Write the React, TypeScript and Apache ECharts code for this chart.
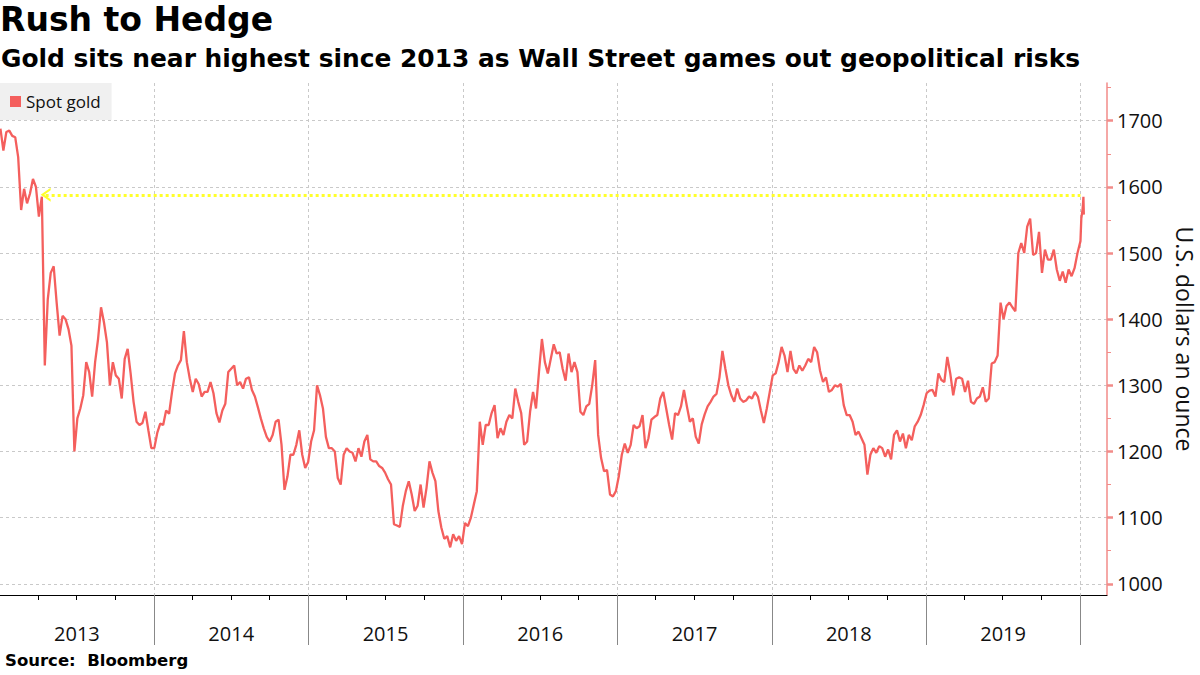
import React, { useEffect, useRef } from "react";
import * as echarts from "echarts";

// ---------- texts ----------
const TITLE = "Rush to Hedge";
const SUBTITLE = "Gold sits near highest since 2013 as Wall Street games out geopolitical risks";
const SOURCE = "Source:  Bloomberg";
const SERIES_NAME = "Spot gold";
const Y_NAME = "U.S. dollars an ounce";

// ---------- axes ----------
const axisStart = "2013-01-01";
const axisEnd = "2020-03-03";
const yMin = 983;
const yMax = 1757;
const yTicks = [1000, 1100, 1200, 1300, 1400, 1500, 1600, 1700];
const yMinorTicks = [1050, 1150, 1250, 1350, 1450, 1550, 1650, 1750];
const yearLabels = [2013, 2014, 2015, 2016, 2017, 2018, 2019];
const yearBoundaries = [2014, 2015, 2016, 2017, 2018, 2019, 2020];

// ---------- reference level (yellow dotted line) ----------
const hedgeLevel = 1588;
const hedgeStart = "2013-04-19";
const hedgeEnd = "2020-01-01";

// ---------- weekly spot gold (Wednesdays), one array per year ----------
const weekStarts = ["2013-01-02", "2014-01-01", "2015-01-07", "2016-01-06", "2017-01-04", "2018-01-03", "2019-01-02"];

const gold2013 = [
  1688, 1655, 1683, 1685, 1677,
  1675, 1645, 1565, 1597,
  1575, 1590, 1612, 1600,
  1555, 1585, 1330, 1430,
  1470, 1480, 1425, 1375, 1405,
  1400, 1385, 1360, 1200,
  1250, 1265, 1285, 1335, 1320,
  1283, 1335, 1370, 1418,
  1395, 1365, 1300, 1335,
  1315, 1310, 1280, 1340, 1355,
  1318, 1275, 1245, 1240,
  1243, 1260, 1232, 1205,
];
const gold2014 = [
  1205, 1228, 1242, 1240, 1262,
  1257, 1290, 1318, 1330,
  1338, 1382, 1335, 1310,
  1290, 1310, 1302, 1283, 1290,
  1290, 1305, 1288, 1258,
  1244, 1262, 1272, 1320,
  1325, 1330, 1300, 1305, 1295,
  1310, 1312, 1293, 1283,
  1267, 1250, 1235, 1222,
  1215, 1225, 1245, 1248, 1210,
  1142, 1162, 1195, 1195,
  1210, 1232, 1195, 1175, 1184,
];
const gold2015 = [
  1215, 1232, 1300, 1285,
  1265, 1222, 1205, 1205,
  1200, 1160, 1150, 1195,
  1205, 1200, 1198, 1185, 1205,
  1192, 1215, 1225, 1188,
  1185, 1185, 1178, 1175,
  1168, 1158, 1150, 1090, 1088,
  1086, 1118, 1140, 1155,
  1135, 1110, 1118, 1150, 1115,
  1145, 1185, 1168, 1155,
  1110, 1085, 1068, 1072,
  1055, 1075, 1065, 1072, 1060,
];
const gold2016 = [
  1092, 1087, 1100, 1120,
  1140, 1245, 1210, 1240,
  1240, 1258, 1270, 1220, 1235,
  1225, 1245, 1255, 1250,
  1295, 1275, 1258, 1210,
  1215, 1260, 1290, 1265, 1320,
  1370, 1335, 1318, 1340,
  1362, 1348, 1350, 1325, 1307,
  1348, 1320, 1335, 1320,
  1260, 1255, 1268, 1272,
  1300, 1338, 1225, 1190, 1170,
  1172, 1135, 1132, 1140,
];
const gold2017 = [
  1163, 1195, 1212, 1198,
  1210, 1240, 1235, 1238,
  1255, 1205, 1220, 1248, 1252,
  1255, 1280, 1290, 1265,
  1240, 1218, 1258, 1255, 1268,
  1293, 1268, 1245, 1250,
  1222, 1212, 1241, 1256,
  1268, 1275, 1283, 1287, 1312,
  1352, 1325, 1300, 1285,
  1275, 1295, 1280, 1275,
  1277, 1283, 1280, 1290, 1283,
  1262, 1243, 1265, 1290,
];
const gold2018 = [
  1315, 1318, 1335, 1358, 1345,
  1320, 1352, 1325, 1318,
  1330, 1322, 1330, 1340,
  1335, 1358, 1350, 1322,
  1305, 1312, 1290, 1293, 1300,
  1298, 1302, 1270, 1255,
  1255, 1245, 1225, 1230,
  1220, 1210, 1165, 1195, 1205,
  1198, 1208, 1205, 1192,
  1203, 1188, 1225, 1232, 1215,
  1227, 1205, 1225, 1217,
  1238, 1245, 1255, 1270,
];
const gold2019 = [
  1288, 1292, 1293, 1283, 1318,
  1308, 1305, 1343, 1318,
  1285, 1310, 1312, 1310,
  1290, 1307, 1275, 1272,
  1280, 1283, 1297, 1275, 1280,
  1333, 1335, 1345, 1425,
  1400, 1420, 1425, 1418, 1412,
  1500, 1515, 1500, 1540,
  1552, 1497, 1500, 1532,
  1470, 1505, 1490, 1490, 1505,
  1475, 1458, 1472, 1455,
  1475, 1465, 1477, 1500,
];
const tailDates = ["2020-01-01", "2020-01-03", "2020-01-06", "2020-01-07", "2020-01-08", "2020-01-09"];
const tailPrices = [1518, 1552, 1566, 1574, 1585, 1558];

// ---------- helpers ----------
const DAY = 86400000;
const ts = (s: string) => Date.parse(s + "T00:00:00Z");

function buildSeries(): [number, number][] {
  const yearly = [gold2013, gold2014, gold2015, gold2016, gold2017, gold2018, gold2019];
  const out: [number, number][] = [];
  yearly.forEach((arr, k) => {
    const t0 = ts(weekStarts[k]);
    arr.forEach((v, i) => out.push([t0 + i * 7 * DAY, v]));
  });
  tailDates.forEach((d, i) => out.push([ts(d), tailPrices[i]]));
  return out;
}

const FONT = "'Open Sans', 'DejaVu Sans', sans-serif";
const TITLE_FONT = "'DejaVu Sans', Verdana, sans-serif";
const LINE_COLOR = "#f45f5d";
const Y_AXIS_COLOR = "#f28b89";
const GRID_COLOR = "#c9c9c9";

export default function App() {
  const ref = useRef<HTMLDivElement>(null);

  useEffect(() => {
    if (!ref.current) return;
    const chart = echarts.init(ref.current, undefined, { renderer: "svg" });

    const quarterTicks: number[] = [];
    yearLabels.forEach((y) => {
      quarterTicks.push(ts(`${y}-04-01`), ts(`${y}-07-01`), ts(`${y}-10-01`));
    });
    const labelPos = yearLabels.map((y) => ts(`${y}-07-02`));
    const boundaryTicks = yearBoundaries.map((y) => ts(`${y}-01-01`));
    const xMin = ts(axisStart);
    const xMax = ts(axisEnd) + 19 * 3600000;

    const chevron = "path://M0,10 L5,0 L10,10 L8.2,10 L5,3.6 L1.8,10 Z";

    chart.setOption({
      animation: false,
      backgroundColor: "#ffffff",
      title: [
        {
          text: TITLE,
          left: 0,
          top: 3,
          padding: 0,
          textStyle: { fontFamily: TITLE_FONT, fontWeight: "bold", fontSize: 33, color: "#000" },
        },
        {
          text: SUBTITLE,
          left: 1,
          top: 46,
          padding: 0,
          textStyle: { fontFamily: TITLE_FONT, fontWeight: "bold", fontSize: 24.9, color: "#000" },
        },
        {
          text: SOURCE,
          left: 5,
          top: 652,
          padding: 0,
          textStyle: { fontFamily: TITLE_FONT, fontWeight: "bold", fontSize: 16.5, color: "#000" },
        },
      ],
      legend: {
        data: [SERIES_NAME],
        left: 0,
        top: 83,
        padding: [10, 11, 10, 10],
        backgroundColor: "#f0f0f0",
        icon: "rect",
        itemWidth: 11,
        itemHeight: 11,
        itemGap: 5,
        textStyle: { fontFamily: FONT, fontSize: 17, color: "#111" },
        selectedMode: false,
      },
      grid: { left: 0, right: 93, top: 83, bottom: 80, containLabel: false, outerBoundsMode: "none" },
      xAxis: [
        {
          type: "value",
          min: xMin,
          max: xMax,
          position: "bottom",
          axisLine: { show: true, lineStyle: { color: "#000", width: 1 } },
          axisTick: { show: true, customValues: quarterTicks, length: 5, lineStyle: { color: "#000" } },
          axisLabel: {
            show: true,
            customValues: labelPos,
            margin: 28,
            fontFamily: FONT,
            fontSize: 20,
            color: "#111",
            formatter: (v: number) => String(new Date(v).getUTCFullYear()),
          },
          splitLine: { show: false },
        },
        {
          type: "value",
          min: xMin,
          max: xMax,
          position: "bottom",
          axisLine: { show: false },
          axisTick: { show: true, customValues: boundaryTicks, length: 50, lineStyle: { color: "#888", width: 1 } },
          axisLabel: { show: false },
          splitLine: { show: true, lineStyle: { color: GRID_COLOR, type: [3, 3], width: 1 } },
        },
      ],
      yAxis: [
        {
          type: "value",
          position: "right",
          min: yMin,
          max: yMax,
          name: Y_NAME,
          nameLocation: "middle",
          nameRotate: -90,
          nameGap: 44,
          nameTextStyle: { fontFamily: FONT, fontSize: 23, lineHeight: 23, color: "#111" },
          axisLine: { show: true, lineStyle: { color: Y_AXIS_COLOR, width: 1.5 } },
          axisTick: { show: true, customValues: yTicks, length: 6, lineStyle: { color: Y_AXIS_COLOR, width: 2.5 } },
          axisLabel: {
            show: true,
            customValues: yTicks,
            margin: 10,
            fontFamily: FONT,
            fontSize: 20,
            color: "#111",
            formatter: (v: number) => String(v),
          },
          splitLine: { show: true, lineStyle: { color: GRID_COLOR, type: [3, 3], width: 1 } },
        },
        {
          type: "value",
          position: "right",
          min: yMin,
          max: yMax,
          axisLine: { show: false },
          axisTick: { show: true, customValues: yMinorTicks, length: 4, lineStyle: { color: Y_AXIS_COLOR, width: 1 } },
          axisLabel: { show: false },
          splitLine: { show: false },
        },
      ],
      series: [
        {
          name: SERIES_NAME,
          type: "line",
          xAxisIndex: 0,
          yAxisIndex: 0,
          data: buildSeries(),
          showSymbol: false,
          symbol: "none",
          color: LINE_COLOR,
          lineStyle: { color: LINE_COLOR, width: 2.3 },
          markLine: {
            silent: true,
            animation: false,
            label: { show: false },
            lineStyle: { color: "#ffff2a", type: "dotted", width: 3 },
            data: [
              [
                { coord: [ts(hedgeStart), hedgeLevel], symbol: chevron, symbolSize: [14, 10] },
                { coord: [ts(hedgeEnd), hedgeLevel], symbol: "none" },
              ],
            ],
          },
        },
      ],
    });

    return () => chart.dispose();
  }, []);

  return (
    <div
      ref={ref}
      style={{ position: "absolute", left: 0, top: 0, width: 1200, height: 675, background: "#fff" }}
    />
  );
}
